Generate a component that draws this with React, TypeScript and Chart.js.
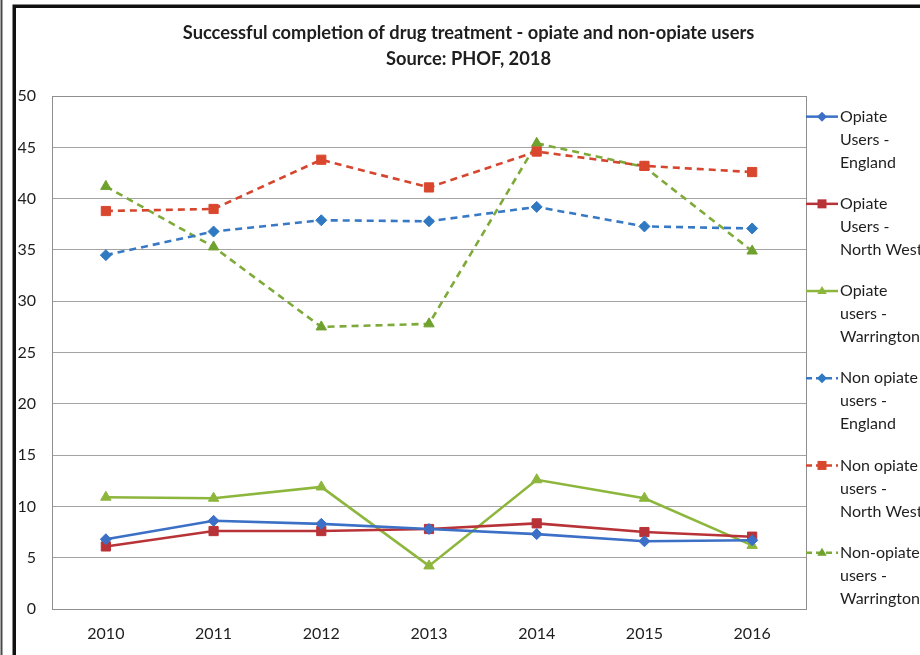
import React, { useEffect, useRef } from 'react';
import { Chart, registerables } from 'chart.js';

Chart.register(...registerables);

// ---------- data ----------
const years = ['2010', '2011', '2012', '2013', '2014', '2015', '2016'];

const opiateEngland = [6.8, 8.6, 8.3, 7.8, 7.3, 6.6, 6.7];
const opiateNorthWest = [6.1, 7.6, 7.6, 7.8, 8.35, 7.5, 7.05];
const opiateWarrington = [10.9, 10.8, 11.9, 4.2, 12.6, 10.8, 6.2];
const nonOpiateEngland = [34.5, 36.8, 37.9, 37.8, 39.2, 37.3, 37.1];
const nonOpiateNorthWest = [38.8, 39.0, 43.8, 41.1, 44.6, 43.2, 42.6];
const nonOpiateWarrington = [41.2, 35.3, 27.5, 27.8, 45.4, 43.1, 34.9];

const yMin = 0;
const yMax = 50;
const yStep = 5;

const titleLines = [
  'Successful completion of drug treatment - opiate and non-opiate users',
  'Source: PHOF, 2018',
];

const seriesNames = [
  'Opiate Users - England',
  'Opiate Users - North West',
  'Opiate users - Warrington',
  'Non opiate users - England',
  'Non opiate users - North West',
  'Non-opiate users - Warrington',
];

const legendLines = [
  ['Opiate', 'Users -', 'England'],
  ['Opiate', 'Users -', 'North West'],
  ['Opiate', 'users -', 'Warrington'],
  ['Non opiate', 'users -', 'England'],
  ['Non opiate', 'users -', 'North West'],
  ['Non-opiate', 'users -', 'Warrington'],
];

// ---------- styles ----------
const FONT = 'Lato, "Open Sans", "DejaVu Sans", sans-serif';
const TEXT = '#1e1e1e';

type Style = { color: string; marker: string; style: 'diamond' | 'square' | 'triangle'; dashed: boolean };
const styles: Style[] = [
  { color: '#3b70c6', marker: '#3b70c6', style: 'diamond', dashed: false },
  { color: '#b83338', marker: '#b83338', style: 'square', dashed: false },
  { color: '#8db63c', marker: '#8db63c', style: 'triangle', dashed: false },
  { color: '#3779c4', marker: '#2f78c2', style: 'diamond', dashed: true },
  { color: '#d6452d', marker: '#d9472e', style: 'square', dashed: true },
  { color: '#7eaa3a', marker: '#6fa12f', style: 'triangle', dashed: true },
];

const seriesValues = [
  opiateEngland,
  opiateNorthWest,
  opiateWarrington,
  nonOpiateEngland,
  nonOpiateNorthWest,
  nonOpiateWarrington,
];

const pointStyleMap: Record<string, string> = { diamond: 'rectRot', square: 'rect', triangle: 'triangle' };
const pointRadiusMap: Record<string, number> = { diamond: 5.5, square: 6.5, triangle: 6 };

function drawMarker(ctx: CanvasRenderingContext2D, kind: string, x: number, y: number, r: number, color: string) {
  ctx.save();
  ctx.fillStyle = color;
  ctx.setLineDash([]);
  ctx.beginPath();
  if (kind === 'diamond') {
    ctx.moveTo(x, y - r);
    ctx.lineTo(x + r, y);
    ctx.lineTo(x, y + r);
    ctx.lineTo(x - r, y);
  } else if (kind === 'square') {
    ctx.rect(x - r, y - r, 2 * r, 2 * r);
  } else {
    ctx.moveTo(x, y - r);
    ctx.lineTo(x + r * 0.95, y + r * 0.6);
    ctx.lineTo(x - r * 0.95, y + r * 0.6);
  }
  ctx.closePath();
  ctx.fill();
  ctx.restore();
}

const framePlugin = {
  id: 'frame',
  beforeDraw(chart: any) {
    const { ctx, width, height } = chart;
    ctx.save();
    ctx.fillStyle = '#ffffff';
    ctx.fillRect(0, 0, width, height);
    ctx.strokeStyle = '#4a4a4a';
    ctx.lineWidth = 2;
    ctx.beginPath();
    ctx.moveTo(1.5, 0);
    ctx.lineTo(1.5, height);
    ctx.stroke();
    ctx.strokeStyle = '#111111';
    ctx.lineWidth = 3.5;
    ctx.beginPath();
    ctx.moveTo(14.25, height);
    ctx.lineTo(14.25, 6.25);
    ctx.lineTo(width, 6.25);
    ctx.stroke();
    ctx.restore();
  },
};

const plotBorderPlugin = {
  id: 'plotBorder',
  beforeDatasetsDraw(chart: any) {
    const { ctx, chartArea } = chart;
    ctx.save();
    ctx.strokeStyle = '#8f8f8f';
    ctx.lineWidth = 1;
    ctx.strokeRect(
      Math.round(chartArea.left) + 0.5,
      Math.round(chartArea.top) + 0.5,
      Math.round(chartArea.right - chartArea.left),
      Math.round(chartArea.bottom - chartArea.top)
    );
    ctx.restore();
  },
};

const sideLegendPlugin = {
  id: 'sideLegend',
  afterDraw(chart: any) {
    const { ctx, chartArea } = chart;
    const x0 = chartArea.right;
    const x1 = x0 + 32;
    const mx = x0 + 16;
    const tx = x0 + 34;
    ctx.save();
    legendLines.forEach((lines, i) => {
      const st = styles[i];
      const y = chartArea.top + 20.5 + i * 87.2;
      ctx.strokeStyle = st.color;
      ctx.lineWidth = 2.5;
      ctx.setLineDash(st.dashed ? [6, 4] : []);
      ctx.beginPath();
      ctx.moveTo(x0, y);
      ctx.lineTo(x1, y);
      ctx.stroke();
      drawMarker(ctx, st.style, mx, y, st.style === 'square' ? 4.5 : 5, st.marker);
      ctx.setLineDash([]);
      ctx.fillStyle = TEXT;
      ctx.font = `16px ${FONT}`;
      ctx.textAlign = 'left';
      ctx.textBaseline = 'middle';
      lines.forEach((t, j) => ctx.fillText(t, tx, y + j * 23));
    });
    ctx.restore();
  },
};

export default function App() {
  const canvasRef = useRef<HTMLCanvasElement | null>(null);

  useEffect(() => {
    if (!canvasRef.current) return;
    const datasets = seriesValues.map((vals, i) => {
      const st = styles[i];
      return {
        label: seriesNames[i],
        data: vals,
        borderColor: st.color,
        backgroundColor: st.marker,
        borderWidth: 2.6,
        borderDash: st.dashed ? [7, 5] : [],
        pointStyle: pointStyleMap[st.style],
        pointRadius: pointRadiusMap[st.style],
        pointBackgroundColor: st.marker,
        pointBorderColor: st.marker,
        pointBorderWidth: 1,
        tension: 0,
        fill: false,
      };
    });

    const chart = new Chart(canvasRef.current, {
      type: 'line',
      data: { labels: years, datasets },
      options: {
        responsive: false,
        animation: false,
        layout: { padding: { left: 17, top: 0, right: 0, bottom: 0 } },
        plugins: {
          legend: { display: false },
          tooltip: { enabled: false },
          title: {
            display: true,
            text: titleLines,
            color: TEXT,
            font: { family: FONT, size: 18.3, weight: 'bold', lineHeight: 1.37 },
            padding: { top: 21, bottom: 25 },
          },
        },
        scales: {
          x: {
            type: 'category',
            offset: true,
            grid: { display: false, drawTicks: false },
            border: { display: false },
            ticks: { color: TEXT, font: { family: FONT, size: 16 }, padding: 15, maxRotation: 0 },
            afterFit: (s: any) => {
              s.height = 46;
            },
          },
          y: {
            type: 'linear',
            position: 'left',
            min: yMin,
            max: yMax,
            grid: { color: '#a3a3a3', lineWidth: 1, drawTicks: false },
            border: { display: false },
            ticks: {
              stepSize: yStep,
              color: TEXT,
              font: { family: FONT, size: 16 },
              crossAlign: 'near',
              padding: 16,
            },
            afterFit: (s: any) => {
              s.width = 35;
            },
          },
          yRight: {
            type: 'linear',
            position: 'right',
            display: true,
            min: yMin,
            max: yMax,
            grid: { display: false, drawTicks: false },
            border: { display: false },
            ticks: { display: false },
            afterFit: (s: any) => {
              s.width = 114;
            },
          },
        },
      },
      plugins: [framePlugin, plotBorderPlugin, sideLegendPlugin],
    } as any);

    return () => chart.destroy();
  }, []);

  return (
    <div style={{ position: 'absolute', left: 0, top: 0, width: 920, height: 655, background: '#fff' }}>
      <canvas ref={canvasRef} width={920} height={655} style={{ display: 'block', width: 920, height: 655 }} />
    </div>
  );
}
